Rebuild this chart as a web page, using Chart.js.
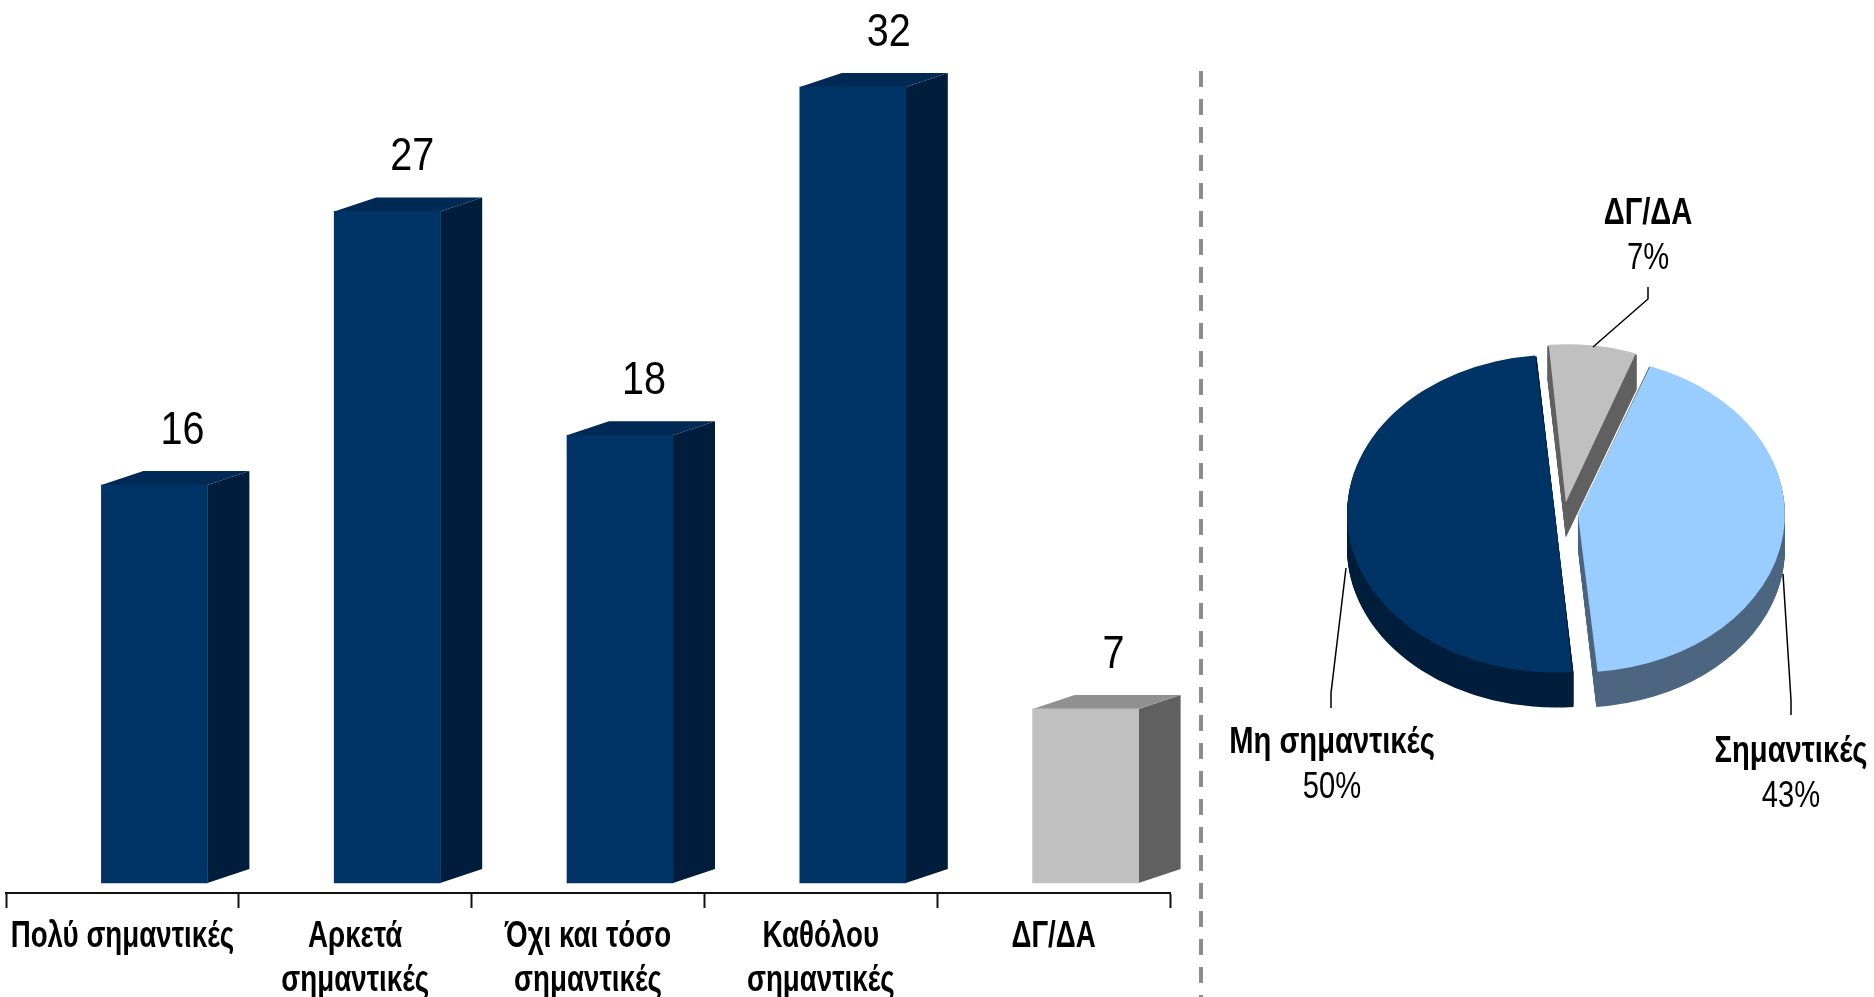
<!DOCTYPE html>
<html><head><meta charset="utf-8">
<style>html,body{margin:0;padding:0;background:#fff;overflow:hidden}canvas{position:absolute;left:0;top:0}</style>
<script src="https://cdn.jsdelivr.net/npm/chart.js@4"></script>
</head><body>
<canvas id="bars" width="1874" height="997"></canvas>
<canvas id="pie" width="1874" height="997"></canvas>
<script>
const barCategories = [["Πολύ σημαντικές"],["Αρκετά","σημαντικές"],["Όχι και τόσο","σημαντικές"],["Καθόλου","σημαντικές"],["ΔΓ/ΔΑ"]];
const barValues = [16,27,18,32,7];
const barFronts = ["#003366","#003366","#003366","#003366","#c0c0c0"];
const barSides  = ["#001e3c","#001e3c","#001e3c","#001e3c","#606060"];
const barTops   = ["#002a55","#002a55","#002a55","#002a55","#909090"];
const labelNudge = [28,25,24,36,28];

const pieLabels = ["ΔΓ/ΔΑ","Σημαντικές","Μη σημαντικές"];
const pieValues = [7,43,50];
const pieTops  = ["#c0c0c0","#99ccff","#003366"];
const pieSides = ["#606060","#4d6680","#001e3c"];
const pieExplode = [56,56,36];

const FONT = "'Liberation Sans',Arial,sans-serif";
const BAR_SHIFT = 32, DEPTH_X = 42, DEPTH_Y = 14;

function narrowText(ctx,text,x,y,font,sx){
  ctx.save();
  ctx.translate(x,y);ctx.scale(sx,1);
  ctx.font=font;ctx.textAlign='center';ctx.textBaseline='middle';ctx.fillStyle='#000';
  ctx.fillText(text,0,0);
  ctx.restore();
}

const bars3d = {
  id:'bars3d',
  beforeDatasetsDraw(chart){
    const ctx = chart.ctx;
    ctx.save();
    ctx.translate(BAR_SHIFT,0);
    chart.getDatasetMeta(0).data.forEach((b,i)=>{
      const {x,y,base,width} = b.getProps(['x','y','base','width'],true);
      const r = x+width/2, l = x-width/2;
      ctx.fillStyle = barSides[i];
      ctx.beginPath();ctx.moveTo(r,y);ctx.lineTo(r+DEPTH_X,y-DEPTH_Y);ctx.lineTo(r+DEPTH_X,base-DEPTH_Y);ctx.lineTo(r,base);ctx.closePath();ctx.fill();
      ctx.fillStyle = barTops[i];
      ctx.beginPath();ctx.moveTo(l,y);ctx.lineTo(l+DEPTH_X,y-DEPTH_Y);ctx.lineTo(r+DEPTH_X,y-DEPTH_Y);ctx.lineTo(r,y);ctx.closePath();ctx.fill();
    });
  },
  afterDatasetsDraw(chart){
    const ctx = chart.ctx;
    ctx.restore();
    chart.getDatasetMeta(0).data.forEach((b,i)=>{
      const {x,y} = b.getProps(['x','y'],true);
      narrowText(ctx,String(barValues[i]),x+BAR_SHIFT+labelNudge[i],y-DEPTH_Y-40,"46px "+FONT,0.86);
    });
    const xs = chart.scales.x;
    barCategories.forEach((lines,i)=>{
      const px = xs.getPixelForValue(i);
      lines.forEach((t,k)=>narrowText(ctx,t,px,937+k*44,"bold 36px "+FONT,0.77));
    });
    ctx.save();
    ctx.strokeStyle='#8c8c8c';ctx.lineWidth=4;ctx.setLineDash([16,12]);
    ctx.beginPath();ctx.moveTo(1201,71);ctx.lineTo(1201,997);ctx.stroke();
    ctx.restore();
  }
};

new Chart(document.getElementById('bars'),{
  type:'bar',
  data:{labels:barCategories,datasets:[{data:barValues,backgroundColor:barFronts,barThickness:106,borderWidth:0}]},
  plugins:[bars3d],
  options:{
    responsive:false,animation:false,
    layout:{padding:{left:6,right:704,top:0,bottom:0}},
    plugins:{legend:{display:false},tooltip:{enabled:false},title:{display:false}},
    scales:{
      y:{display:false,min:-10/24.875,max:883/24.875},
      x:{
        offset:true,
        afterFit(s){s.height=104;},
        border:{display:true,color:'#111',width:2},
        grid:{display:true,offset:true,drawOnChartArea:false,drawTicks:true,tickLength:15,tickColor:'#111',tickWidth:2},
        ticks:{display:false,autoSkip:false,maxRotation:0,minRotation:0}
      }
    }
  }
});

const SQUASH = 0.764, PIE_DEPTH = 35;
function arcShape(ctx,el){
  const {x,y,startAngle,endAngle,outerRadius,circumference} = el.getProps(['x','y','startAngle','endAngle','outerRadius','circumference'],true);
  const mid=(startAngle+endAngle)/2, o=(el.options.offset||0)/4;
  const fix=1-Math.sin(Math.min(Math.PI,circumference||0));
  const cx=x+Math.cos(mid)*o, cy=y+Math.sin(mid)*o;
  ctx.beginPath();ctx.moveTo(cx,cy);ctx.arc(cx,cy,outerRadius+o*fix,startAngle,endAngle);ctx.closePath();
}
const pie3d = {
  id:'pie3d',
  beforeDatasetsDraw(chart){
    const ctx=chart.ctx, els=chart.getDatasetMeta(0).data;
    const {x,y}=els[0].getProps(['x','y'],true);
    els.forEach((el,i)=>{
      ctx.fillStyle=pieSides[i];
      for(let d=PIE_DEPTH;d>=1;d-=1){
        ctx.save();ctx.translate(x,y+d);ctx.scale(1,SQUASH);ctx.translate(-x,-y);
        arcShape(ctx,el);ctx.fill();ctx.restore();
      }
    });
    ctx.save();ctx.translate(x,y);ctx.scale(1,SQUASH);ctx.translate(-x,-y);
  },
  afterDatasetsDraw(chart){
    const ctx=chart.ctx;
    ctx.restore();
    ctx.strokeStyle='#000';ctx.lineWidth=1.5;
    const lines=[[[1648,287],[1648,299],[1593,347]],[[1346,568],[1331,693],[1331,708]],[[1783,574],[1791,700],[1791,715]]];
    lines.forEach(p=>{ctx.beginPath();p.forEach((q,k)=>k?ctx.lineTo(q[0],q[1]):ctx.moveTo(q[0],q[1]));ctx.stroke();});
    const pos=[[1648,214,259],[1791,752,797],[1332,743,788]];
    pos.forEach((p,i)=>{
      narrowText(ctx,pieLabels[i],p[0],p[1],"bold 36px "+FONT,0.81);
      narrowText(ctx,pieValues[i]+"%",p[0],p[2],"36px "+FONT,0.81);
    });
  }
};
new Chart(document.getElementById('pie'),{
  type:'pie',
  data:{labels:pieLabels,datasets:[{data:pieValues,backgroundColor:pieTops,borderWidth:0,offset:pieExplode,clip:false,rotation:-5.1}]},
  plugins:[pie3d],
  options:{
    responsive:false,animation:false,
    layout:{padding:{left:1337,right:83,top:286,bottom:257}},
    plugins:{legend:{display:false},tooltip:{enabled:false}}
  }
});
</script>
</body></html>
